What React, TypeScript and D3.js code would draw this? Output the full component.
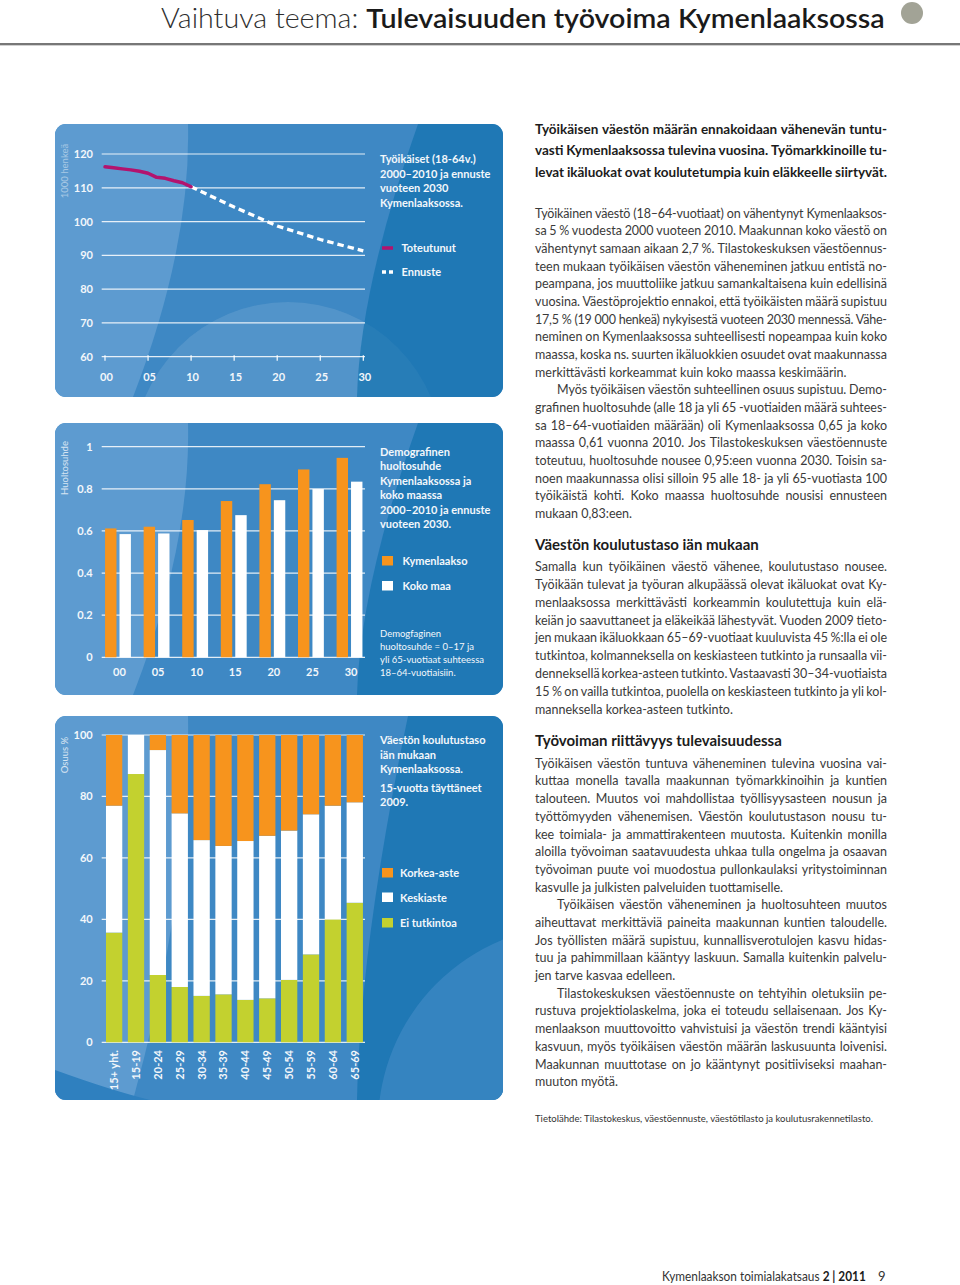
import React from 'react';
import * as d3 from 'd3';

// ---------------- Data ----------------
// Chart 1: työikäiset (1000 henkeä)
const actualYears = [2000, 2001, 2002, 2003, 2004, 2005, 2006, 2007, 2008, 2009, 2010];
const actualValues = [116.2, 115.9, 115.6, 115.3, 114.9, 114.3, 113.1, 112.8, 112.1, 111.5, 110.3];
const forecastYears = [2010, 2015, 2020, 2025, 2030];
const forecastValues = [110.3, 104.3, 98.7, 94.7, 91.3];
const lineYTicks = [60, 70, 80, 90, 100, 110, 120];
const lineXTicks = [2000, 2005, 2010, 2015, 2020, 2025, 2030];
const lineXTickLabels = ['00', '05', '10', '15', '20', '25', '30'];

// Chart 2: huoltosuhde
const ratioYears = ['00', '05', '10', '15', '20', '25', '30'];
const kymenlaaksoRatio = [0.612, 0.62, 0.652, 0.742, 0.822, 0.892, 0.947];
const kokoMaaRatio = [0.585, 0.588, 0.604, 0.675, 0.746, 0.799, 0.834];
const ratioTicks = [0, 0.2, 0.4, 0.6, 0.8, 1];
const ratioTickLabels = ['0', '0.2', '0.4', '0.6', '0.8', '1'];

// Chart 3: koulutustaso (%)
const ageGroups = ['15+ yht.', '15-19', '20-24', '25-29', '30-34', '35-39', '40-44', '45-49', '50-54', '55-59', '60-64', '65-69'];
const eiTutkintoa = [35.7, 87.3, 21.9, 18.0, 15.1, 15.6, 13.8, 14.3, 20.3, 28.6, 40.0, 45.4];
const keskiaste = [41.3, 12.7, 73.2, 56.5, 50.7, 48.3, 51.7, 52.9, 48.6, 45.6, 37.0, 32.7];
const korkeaAste = [23.0, 0.0, 4.9, 25.5, 34.2, 36.1, 34.5, 32.8, 31.1, 25.8, 23.0, 21.9];
const eduTicks = [0, 20, 40, 60, 80, 100];

// Texts
const chart1Title = ['Työikäiset (18-64v.)', '2000–2010 ja ennuste', 'vuoteen 2030', 'Kymenlaaksossa.'];
const chart2Title = ['Demografinen', 'huoltosuhde', 'Kymenlaaksossa ja', 'koko maassa', '2000–2010 ja ennuste', 'vuoteen 2030.'];
const chart2Note = ['Demogfaginen', 'huoltosuhde = 0–17 ja', 'yli 65-vuotiaat suhteessa', '18–64-vuotiaisiin.'];
const chart3Title = ['Väestön koulutustaso', 'iän mukaan', 'Kymenlaaksossa.'];
const chart3Sub = ['15-vuotta täyttäneet', '2009.'];

const leadLines = [
  'Työikäisen väestön määrän ennakoidaan vähenevän tuntu-',
  'vasti Kymenlaaksossa tulevina vuosina. Työmarkkinoille tu-',
  'levat ikäluokat ovat koulutetumpia kuin eläkkeelle siirtyvät.',
];
const para1 = [
  'Työikäinen väestö (18–64-vuotiaat) on vähentynyt Kymenlaaksos-',
  'sa 5 % vuodesta 2000 vuoteen 2010. Maakunnan koko väestö on',
  'vähentynyt samaan aikaan 2,7 %. Tilastokeskuksen väestöennus-',
  'teen mukaan työikäisen väestön väheneminen jatkuu entistä no-',
  'peampana, jos muuttoliike jatkuu samankaltaisena kuin edellisinä',
  'vuosina. Väestöprojektio ennakoi, että työikäisten määrä supistuu',
  '17,5 % (19 000 henkeä) nykyisestä vuoteen 2030 mennessä. Vähe-',
  'neminen on Kymenlaaksossa suhteellisesti nopeampaa kuin koko',
  'maassa, koska ns. suurten ikäluokkien osuudet ovat maakunnassa',
  'merkittävästi korkeammat kuin koko maassa keskimäärin.',
];
const para2 = [
  'Myös työikäisen väestön suhteellinen osuus supistuu. Demo-',
  'grafinen huoltosuhde (alle 18 ja yli 65 -vuotiaiden määrä suhtees-',
  'sa 18–64-vuotiaiden määrään) oli Kymenlaaksossa 0,65 ja koko',
  'maassa 0,61 vuonna 2010. Jos Tilastokeskuksen väestöennuste',
  'toteutuu, huoltosuhde nousee 0,95:een vuonna 2030. Toisin sa-',
  'noen maakunnassa olisi silloin 95 alle 18- ja yli 65-vuotiasta 100',
  'työikäistä kohti. Koko maassa huoltosuhde nousisi ennusteen',
  'mukaan 0,83:een.',
];
const heading2 = 'Väestön koulutustaso iän mukaan';
const para3 = [
  'Samalla kun työikäinen väestö vähenee, koulutustaso nousee.',
  'Työikään tulevat ja työuran alkupäässä olevat ikäluokat ovat Ky-',
  'menlaaksossa merkittävästi korkeammin koulutettuja kuin elä-',
  'keiän jo saavuttaneet ja eläkeikää lähestyvät. Vuoden 2009 tieto-',
  'jen mukaan ikäluokkaan 65–69-vuotiaat kuuluvista 45 %:lla ei ole',
  'tutkintoa, kolmanneksella on keskiasteen tutkinto ja runsaalla vii-',
  'denneksellä korkea-asteen tutkinto. Vastaavasti 30–34-vuotiaista',
  '15 % on vailla tutkintoa, puolella on keskiasteen tutkinto ja yli kol-',
  'manneksella korkea-asteen tutkinto.',
];
const heading3 = 'Työvoiman riittävyys tulevaisuudessa';
const para4 = [
  'Työikäisen väestön tuntuva väheneminen tulevina vuosina vai-',
  'kuttaa monella tavalla maakunnan työmarkkinoihin ja kuntien',
  'talouteen. Muutos voi mahdollistaa työllisyysasteen nousun ja',
  'työttömyyden vähenemisen. Väestön koulutustason nousu tu-',
  'kee toimiala- ja ammattirakenteen muutosta. Kuitenkin monilla',
  'aloilla työvoiman saatavuudesta uhkaa tulla ongelma ja osaavan',
  'työvoiman puute voi muodostua pullonkaulaksi yritystoiminnan',
  'kasvulle ja julkisten palveluiden tuottamiselle.',
];
const para5 = [
  'Työikäisen väestön väheneminen ja huoltosuhteen muutos',
  'aiheuttavat merkittäviä paineita maakunnan kuntien taloudelle.',
  'Jos työllisten määrä supistuu, kunnallisverotulojen kasvu hidas-',
  'tuu ja pahimmillaan kääntyy laskuun. Samalla kuitenkin palvelu-',
  'jen tarve kasvaa edelleen.',
];
const para6 = [
  'Tilastokeskuksen väestöennuste on tehtyihin oletuksiin pe-',
  'rustuva projektiolaskelma, joka ei toteudu sellaisenaan. Jos Ky-',
  'menlaakson muuttovoitto vahvistuisi ja väestön trendi kääntyisi',
  'kasvuun, myös työikäisen väestön määrän laskusuunta loivenisi.',
  'Maakunnan muuttotase on jo kääntynyt positiiviseksi maahan-',
  'muuton myötä.',
];
const sourceText = 'Tietolähde: Tilastokeskus, väestöennuste, väestötilasto ja koulutusrakennetilasto.';

// ---------------- Helpers ----------------
const FONT = 'Lato, "Open Sans", "DejaVu Sans", sans-serif';
const ORANGE = '#f7941d';
const GREEN = '#c3d12f';
const MAGENTA = '#b3136e';
const PANEL_TEXT = '#f3f7fb';

let ctx: CanvasRenderingContext2D | null = null;
function measure(s: string, size: number, weight: number) {
  if (!ctx) ctx = document.createElement('canvas').getContext('2d');
  if (!ctx) return s.length * size * 0.48;
  ctx.font = `${weight} ${size}px Lato`;
  return ctx.measureText(s).width;
}

function Line({ text, x, y, width, size, weight, fill, justify }: any) {
  if (!justify) {
    return <text x={x} y={y} fontSize={size} fontWeight={weight} fill={fill}>{text}</text>;
  }
  const words = text.split(' ');
  const widths = words.map((w: string) => measure(w, size, weight));
  const gap = (width - d3.sum(widths)) / Math.max(1, words.length - 1);
  if (words.length < 2 || gap < 1.8) {
    return (
      <text x={x} y={y} fontSize={size} fontWeight={weight} fill={fill} textLength={width} lengthAdjust="spacing">
        {text}
      </text>
    );
  }
  let cx = x;
  return (
    <g fontSize={size} fontWeight={weight} fill={fill}>
      {words.map((w: string, i: number) => {
        const el = <text key={i} x={cx} y={y}>{w}</text>;
        cx += widths[i] + gap;
        return el;
      })}
    </g>
  );
}

function Paragraph({ lines, x, y, lh, width, size, weight, fill, indent = 0, justifyLast = false }: any) {
  return (
    <g>
      {lines.map((t: string, i: number) => {
        const ind = i === 0 ? indent : 0;
        const last = i === lines.length - 1;
        return (
          <Line key={i} text={t} x={x + ind} y={y + i * lh} width={width - ind} size={size}
            weight={weight} fill={fill} justify={!last || justifyLast} />
        );
      })}
    </g>
  );
}

const PX = 55;
const PW = 448;

function PanelBg({ id, py, ph, variant }: { id: string; py: number; ph: number; variant: number }) {
  const bottom = py + ph;
  return (
    <g>
      <defs>
        <clipPath id={id}>
          <rect x={PX} y={py} width={PW} height={ph} rx={11} ry={11} />
        </clipPath>
      </defs>
      <g clipPath={`url(#${id})`}>
        <rect x={PX} y={py} width={PW} height={ph} fill="#3e88c4" />
        <path d={`M${PX},${py} L188,${py} Q191,${py + ph * 0.45} 133,${bottom} L${PX},${bottom} Z`} fill="#5d9bd0" />
        {variant === 3 && (
          <path d={`M${PX},${bottom - 30} Q110,${bottom - 10} 150,${bottom} L${PX},${bottom} Z`} fill="#2f80bf" />
        )}
        {variant === 1 && <circle cx={288} cy={py + ph + 60} r={155} fill="#ffffff" opacity={0.07} />}
        <path
          d={`M${variant === 3 ? 408 : 418},${py} Q360,${py + ph * 0.6} 357,${bottom} L${PX + PW},${bottom} L${PX + PW},${py} Z`}
          fill="#1f78b5"
        />
        {variant === 1 && <circle cx={288} cy={py + ph + 60} r={155} fill="#ffffff" opacity={0.04} />}
        {variant === 3 && <circle cx={578} cy={bottom + 25} r={200} fill="#3a86c2" opacity={0.85} />}
      </g>
    </g>
  );
}

function YLabel({ x, y, text, opacity }: any) {
  return (
    <text transform={`translate(${x},${y}) rotate(-90)`} textAnchor="middle" fontSize={9.5}
      fill="#ffffff" opacity={opacity} dy="0.35em">
      {text}
    </text>
  );
}

// ---------------- Charts ----------------
function LineChart() {
  const x = d3.scaleLinear().domain([2000, 2030]).range([105, 363.3]);
  const y = d3.scaleLinear().domain([60, 120]).range([356.7, 154]);
  const lineGen = d3.line<[number, number]>().x(d => x(d[0])).y(d => y(d[1]));
  const actualPath = lineGen(actualYears.map((yr, i) => [yr, actualValues[i]] as [number, number]));
  const forecastPath = lineGen(forecastYears.map((yr, i) => [yr, forecastValues[i]] as [number, number]));
  return (
    <g fontFamily={FONT}>
      <PanelBg id="p1" py={124} ph={273} variant={1} />
      <YLabel x={65} y={171} text="1000 henkeä" opacity={0.45} />
      {lineYTicks.map(t => (
        <g key={t}>
          <line x1={101.7} x2={365} y1={y(t)} y2={y(t)} stroke="#ffffff" strokeOpacity={0.85} strokeWidth={1.2} />
          <text x={93} y={y(t)} dy="0.36em" textAnchor="end" fontSize={11} fontWeight={700} fill={PANEL_TEXT}>{t}</text>
        </g>
      ))}
      {lineXTicks.map((t, i) => (
        <g key={t}>
          <line x1={x(t)} x2={x(t)} y1={y(60) - 1.5} y2={y(60) + 4} stroke="#ffffff" strokeWidth={1.2} />
          <text x={x(t) + 1.5} y={381} textAnchor="middle" fontSize={11} fontWeight={700} fill={PANEL_TEXT}>{lineXTickLabels[i]}</text>
        </g>
      ))}
      <path d={forecastPath || ''} fill="none" stroke="#ffffff" strokeWidth={3.3} strokeDasharray="6.5 4" />
      <path d={actualPath || ''} fill="none" stroke={MAGENTA} strokeWidth={3.5} strokeLinejoin="round" strokeLinecap="round" />
      {chart1Title.map((t, i) => (
        <text key={t} x={380} y={163 + i * 14.5} fontSize={11} fontWeight={700} fill={PANEL_TEXT}>{t}</text>
      ))}
      <line x1={382} x2={393} y1={248} y2={248} stroke={MAGENTA} strokeWidth={3.5} />
      <text x={401.5} y={252} fontSize={11} fontWeight={700} fill={PANEL_TEXT}>Toteutunut</text>
      <line x1={382} x2={393} y1={272} y2={272} stroke="#ffffff" strokeWidth={3.3} strokeDasharray="4 3" />
      <text x={401.5} y={276} fontSize={11} fontWeight={700} fill={PANEL_TEXT}>Ennuste</text>
    </g>
  );
}

function RatioChart() {
  const y = d3.scaleLinear().domain([0, 1]).range([657.3, 446.7]);
  const x0 = d3.scaleBand<string>().domain(ratioYears).range([98.5, 369]).paddingInner(0.33).paddingOuter(0.17);
  const x1 = d3.scaleBand<string>().domain(['k', 'm']).range([0, x0.bandwidth()]).paddingInner(0.21);
  return (
    <g fontFamily={FONT}>
      <PanelBg id="p2" py={423} ph={272} variant={2} />
      <YLabel x={65} y={468} text="Huoltosuhde" opacity={0.75} />
      {ratioTicks.map((t, i) => (
        <g key={t}>
          <line x1={101.7} x2={365} y1={y(t)} y2={y(t)} stroke="#ffffff" strokeOpacity={0.85} strokeWidth={1.2} />
          <text x={92.7} y={y(t)} dy="0.36em" textAnchor="end" fontSize={11} fontWeight={700} fill={PANEL_TEXT}>{ratioTickLabels[i]}</text>
        </g>
      ))}
      {ratioYears.map((yr, i) => {
        const gx = x0(yr) as number;
        return (
          <g key={yr}>
            <rect x={gx + (x1('k') as number)} y={y(kymenlaaksoRatio[i])} width={x1.bandwidth()}
              height={y(0) - y(kymenlaaksoRatio[i])} fill={ORANGE} />
            <rect x={gx + (x1('m') as number)} y={y(kokoMaaRatio[i])} width={x1.bandwidth()}
              height={y(0) - y(kokoMaaRatio[i])} fill="#ffffff" />
            <text x={gx + x0.bandwidth() / 2 + 1.5} y={676} textAnchor="middle" fontSize={11} fontWeight={700} fill={PANEL_TEXT}>{yr}</text>
          </g>
        );
      })}
      {chart2Title.map((t, i) => (
        <text key={t} x={380} y={455.7 + i * 14.5} fontSize={11} fontWeight={700} fill={PANEL_TEXT}>{t}</text>
      ))}
      <rect x={382} y={556} width={11} height={9.5} fill={ORANGE} />
      <text x={402.5} y={564.5} fontSize={11} fontWeight={700} fill={PANEL_TEXT}>Kymenlaakso</text>
      <rect x={382} y={581} width={11} height={9.5} fill="#ffffff" />
      <text x={402.5} y={589.5} fontSize={11} fontWeight={700} fill={PANEL_TEXT}>Koko maa</text>
      {chart2Note.map((t, i) => (
        <text key={t} x={380} y={637 + i * 13} fontSize={9.5} fontWeight={400} fill={PANEL_TEXT}>{t}</text>
      ))}
    </g>
  );
}

function EduChart() {
  const y = d3.scaleLinear().domain([0, 100]).range([1042.3, 735]);
  const x = d3.scaleBand<string>().domain(ageGroups).range([101.6, 367.3]).paddingInner(0.255).paddingOuter(0.2);
  const rows = ageGroups.map((g, i) => ({ group: g, ei: eiTutkintoa[i], keski: keskiaste[i], korkea: korkeaAste[i] }));
  const keys = ['ei', 'keski', 'korkea'];
  const colors: Record<string, string> = { ei: GREEN, keski: '#ffffff', korkea: ORANGE };
  const series = d3.stack<any>().keys(keys)(rows);
  const legend = [
    { label: 'Korkea-aste', color: ORANGE, y: 868 },
    { label: 'Keskiaste', color: '#ffffff', y: 892.5 },
    { label: 'Ei tutkintoa', color: GREEN, y: 918 },
  ];
  return (
    <g fontFamily={FONT}>
      <PanelBg id="p3" py={716} ph={384} variant={3} />
      <YLabel x={65} y={755} text="Osuus %" opacity={0.75} />
      {eduTicks.map(t => (
        <g key={t}>
          <line x1={101.7} x2={365} y1={y(t)} y2={y(t)} stroke="#ffffff" strokeOpacity={0.85} strokeWidth={1.2} />
          <text x={92.7} y={y(t)} dy="0.36em" textAnchor="end" fontSize={11} fontWeight={700} fill={PANEL_TEXT}>{t}</text>
        </g>
      ))}
      {series.map(s => (
        <g key={s.key} fill={colors[s.key]}>
          {s.map((d: any, i: number) => (
            <rect key={i} x={x(ageGroups[i])} y={y(d[1])} width={x.bandwidth()} height={Math.max(0, y(d[0]) - y(d[1]))} />
          ))}
        </g>
      ))}
      {ageGroups.map(g => (
        <text key={g} transform={`translate(${(x(g) as number) + x.bandwidth() / 2},1050) rotate(-90)`}
          textAnchor="end" dy="0.36em" fontSize={11} fontWeight={700} fill={PANEL_TEXT}>{g}</text>
      ))}
      {chart3Title.map((t, i) => (
        <text key={t} x={380} y={744 + i * 14.6} fontSize={11} fontWeight={700} fill={PANEL_TEXT}>{t}</text>
      ))}
      {chart3Sub.map((t, i) => (
        <text key={t} x={380} y={792.3 + i * 14} fontSize={11} fontWeight={700} fill={PANEL_TEXT}>{t}</text>
      ))}
      {legend.map(l => (
        <g key={l.label}>
          <rect x={382} y={l.y} width={11} height={9.5} fill={l.color} />
          <text x={400} y={l.y + 9} fontSize={11} fontWeight={700} fill={PANEL_TEXT}>{l.label}</text>
        </g>
      ))}
    </g>
  );
}

// ---------------- Page ----------------
export default function App() {
  const titleA = 'Vaihtuva teema: ';
  const titleB = 'Tulevaisuuden työvoima Kymenlaaksossa';
  const tSize = 27.5;
  const wA = measure(titleA, tSize, 300);
  const wB = measure(titleB, tSize, 600);
  const sx = 724 / (wA + wB);
  const footA = 'Kymenlaakson toimialakatsaus ';
  const footB = '2 | 2011';
  const fSize = 13;
  const fA = measure(footA, fSize, 400);
  const fB = measure(footB, fSize, 700);
  const fsx = 204 / (fA + fB);
  const textX = 535;
  const textW = 352;
  const bodyFill = '#3a3a3a';
  return (
    <svg width={960} height={1285} viewBox="0 0 960 1285"
      style={{ position: 'absolute', left: 0, top: 0, background: '#ffffff' }} fontFamily={FONT}>
      <rect x={0} y={0} width={960} height={1285} fill="#ffffff" />
      {/* Header */}
      <g transform={`translate(161,27.5) scale(${sx},1)`}>
        <text x={0} y={0} fontSize={tSize} fontWeight={300} fill="#2e2e2e">
          {titleA}
          <tspan fontWeight={600} fill="#1a1a1a">{titleB}</tspan>
        </text>
      </g>
      <circle cx={912} cy={13} r={11} fill="#a2a396" />
      <line x1={0} x2={960} y1={44} y2={44} stroke="#4a4a4a" strokeWidth={1.4} />
      <line x1={0} x2={960} y1={45.5} y2={45.5} stroke="#d0d0d0" strokeWidth={1} />

      <LineChart />
      <RatioChart />
      <EduChart />

      {/* Text column */}
      <Paragraph lines={leadLines} x={textX} y={133.5} lh={21.6} width={textW} size={13.5} weight={700} fill="#1c1c1c" justifyLast />
      <Paragraph lines={para1} x={textX} y={217.8} lh={17.65} width={textW} size={12.5} weight={400} fill={bodyFill} />
      <Paragraph lines={para2} x={textX} y={217.8 + 10 * 17.65} lh={17.65} width={textW} size={12.5} weight={400} fill={bodyFill} indent={22} />
      <text x={textX} y={549.5} fontSize={15} fontWeight={700} fill="#1c1c1c">{heading2}</text>
      <Paragraph lines={para3} x={textX} y={571.2} lh={17.8} width={textW} size={12.5} weight={400} fill={bodyFill} />
      <text x={textX} y={745.5} fontSize={15} fontWeight={700} fill="#1c1c1c">{heading3}</text>
      <Paragraph lines={para4} x={textX} y={767.8} lh={17.69} width={textW} size={12.5} weight={400} fill={bodyFill} />
      <Paragraph lines={para5} x={textX} y={767.8 + 8 * 17.69} lh={17.69} width={textW} size={12.5} weight={400} fill={bodyFill} indent={22} />
      <Paragraph lines={para6} x={textX} y={767.8 + 13 * 17.69} lh={17.69} width={textW} size={12.5} weight={400} fill={bodyFill} indent={22} />

      <text x={535} y={1122} fontSize={10} fill="#333333" textLength={338} lengthAdjust="spacingAndGlyphs">{sourceText}</text>

      {/* Footer */}
      <g transform={`translate(662,1280.5) scale(${fsx},1)`}>
        <text x={0} y={0} fontSize={fSize} fill="#333333">
          {footA}
          <tspan fontWeight={700} fill="#1a1a1a">{footB}</tspan>
        </text>
      </g>
      <text x={878} y={1280.5} fontSize={fSize} fill="#333333">9</text>
    </svg>
  );
}
